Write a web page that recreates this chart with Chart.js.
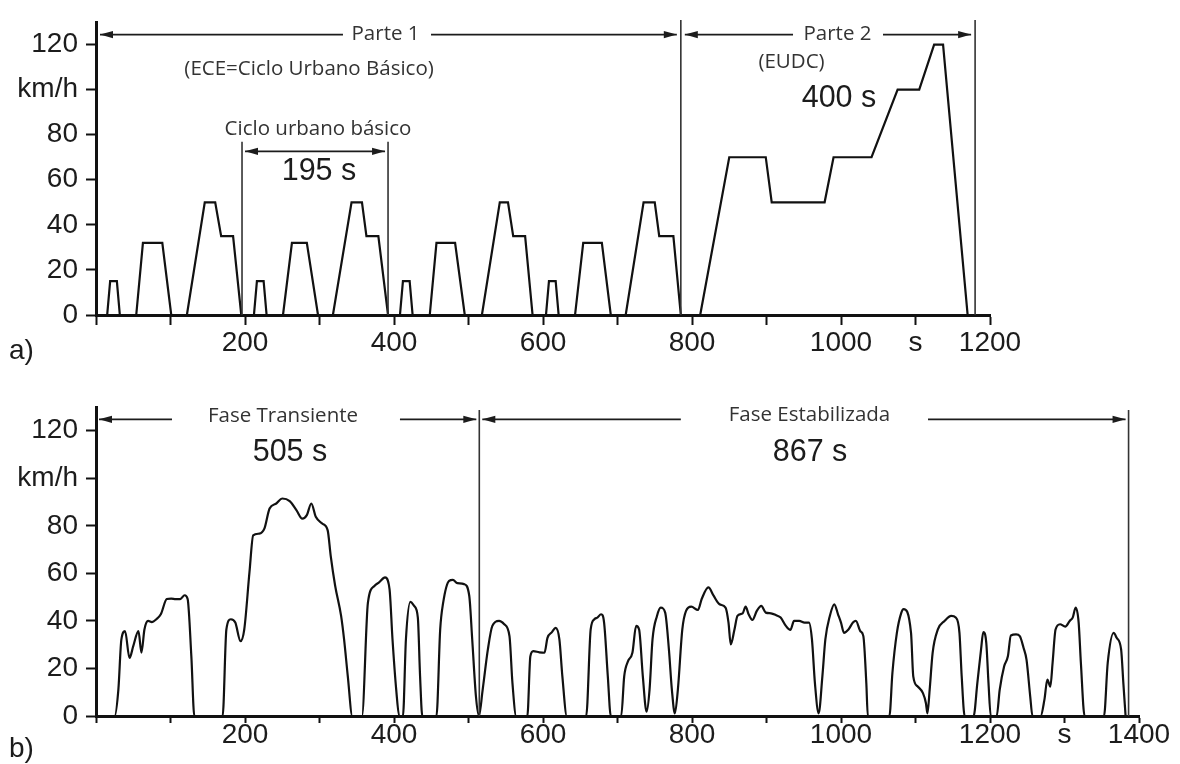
<!DOCTYPE html>
<html><head><meta charset="utf-8">
<script src="https://cdn.jsdelivr.net/npm/chart.js@4.4.1/dist/chart.umd.min.js"></script>
<style>
html,body{margin:0;padding:0;background:#fff;width:1180px;height:764px;overflow:hidden;}
canvas{position:absolute;left:0;}
</style></head><body>
<canvas id="c1" width="1180" height="380" style="top:0px"></canvas>
<canvas id="c2" width="1180" height="384" style="top:380px"></canvas>
<script>
// ---------- DATA ----------
// a) NEDC: 4 x ECE urban cycles + EUDC (time s, speed km/h)
const nedcTime = [
  0, 15, 19, 28, 32, 54, 63, 89, 101, 122, 146, 160, 168, 184, 195,
  212, 216, 225, 229, 251, 263, 283, 298, 318, 343, 357, 363, 379, 392,
  408, 412, 421, 425, 448, 457, 482, 495, 518, 542, 553, 560, 576, 586,
  604, 608, 617, 621, 643, 654, 679, 691, 711, 735, 750, 756, 775, 785,
  811, 850, 899, 907, 978, 990, 1041, 1076, 1105, 1125, 1137, 1170, 1180
];
const nedcSpeed = [
  0, 0, 15, 15, 0, 0, 32, 32, 0, 0, 50, 50, 35, 35, 0,
  0, 15, 15, 0, 0, 32, 32, 0, 0, 50, 50, 35, 35, 0,
  0, 15, 15, 0, 0, 32, 32, 0, 0, 50, 50, 35, 35, 0,
  0, 15, 15, 0, 0, 32, 32, 0, 0, 50, 50, 35, 35, 0,
  0, 70, 70, 50, 50, 70, 70, 100, 100, 120, 120, 0, 0
];
// b) FTP-75 (time s, speed km/h)
const ftpTime = [
  0, 25, 30, 34, 39, 45, 50, 57, 61, 65, 70, 75, 81, 87, 95, 101, 107, 113, 119, 123, 128, 132,
  170, 175, 181, 187, 194, 199, 206, 211, 219, 226, 233, 242, 250, 260, 269, 277, 283, 289, 295, 304, 311, 315, 321, 329, 333, 338, 344,
  357, 365, 374, 380, 388, 394, 398, 403, 407,
  412, 416, 422, 427, 432, 435, 438,
  457, 462, 466, 474, 479, 485, 494, 501, 505, 510, 514,
  519, 526, 532, 541, 548, 555, 559, 564,
  579, 583, 587, 595, 602, 606, 612, 617, 622, 626, 632,
  658, 664, 669, 673, 678, 682, 687, 691,
  705, 709, 714, 720, 725, 729, 734, 739, 743, 747, 753, 758, 764, 769, 773, 777,
  781, 787, 792, 799, 808, 813, 822, 829, 837, 845, 849, 852, 857, 861, 868, 872, 876, 881, 887, 893, 899, 906, 913, 919, 926, 932, 937, 944, 951, 957, 961, 965, 970,
  975, 979, 985, 991, 996, 1000, 1004, 1010, 1016, 1020, 1026, 1030, 1034, 1036,
  1065, 1069, 1075, 1081, 1084, 1094, 1097, 1103, 1110, 1114, 1116,
  1119, 1123, 1130, 1139, 1148, 1154, 1159, 1162, 1166,
  1178, 1183, 1188, 1191, 1195, 1198, 1201,
  1209, 1213, 1219, 1224, 1228, 1235, 1240, 1245, 1249, 1254, 1257,
  1268, 1273, 1277, 1281, 1284, 1288, 1294, 1301, 1307, 1311, 1315, 1319, 1322, 1327,
  1353, 1358, 1366, 1370, 1376, 1379, 1382
];
const ftpSpeed = [
  0, 0, 11, 32, 35.7, 24.4, 29.4, 35.7, 26.6, 36.4, 40, 39.5, 40.7, 42.8, 49.2, 49.4, 49.2, 49.2, 50.8, 49.2, 25, 0,
  0, 36.4, 40.7, 39.3, 31.5, 36.4, 60.5, 76, 76.7, 78.8, 87.3, 89.4, 91.5, 90.4, 86.6, 83, 84.5, 89.4, 83.8, 80.9, 78.1, 67.5, 54.8, 42.1, 32.2, 16.7, 0,
  0, 47.7, 54.8, 56.2, 58.3, 53.4, 32.2, 11, 0,
  0, 32.2, 48, 46.3, 41.4, 16.7, 0,
  0, 36.4, 47.7, 56.9, 57.3, 55.9, 55.5, 50.6, 32.2, 8.2, 0,
  11, 28, 37.9, 40, 38.6, 33.6, 13.8, 0,
  0, 25.1, 27.3, 26.8, 26.6, 32.9, 35.3, 37.1, 32.2, 16.7, 0,
  0, 36.4, 40.7, 41.4, 42.8, 39.3, 16.7, 0,
  0, 16.7, 23, 26.6, 37.9, 36.4, 16.7, 1.8, 11, 32.2, 42.1, 45.6, 43.5, 28, 11, 1.1,
  11, 36.4, 44.2, 46, 44.6, 49.2, 54.1, 50.6, 47, 45.6, 39.3, 30.1, 36.4, 42.1, 43.2, 46, 42.8, 40.4, 44.2, 46.3, 43.5, 43.2, 42.4, 41.4, 37.9, 36.2, 40, 40, 39.3, 39.3, 32.2, 13.8, 1.1,
  16.7, 32.2, 42.1, 47, 42.8, 39.3, 35, 36.4, 39.3, 40, 35.7, 33.6, 13.8, 0,
  0, 18.1, 35, 43.5, 45, 35, 16.7, 12.4, 9.6, 5.4, 1.1,
  11, 26.6, 36.4, 40, 42.1, 41.4, 35, 16.7, 0,
  0, 13.8, 28, 35.3, 30.8, 13.8, 0,
  0, 11, 20.9, 25.1, 33.9, 34.3, 33.6, 28.7, 23.7, 8.2, 0,
  0, 6.8, 15.3, 12.4, 22.3, 36.4, 38.6, 37.6, 40, 41.4, 45.6, 39.3, 22.3, 0,
  0, 22.3, 35, 32.9, 28, 13.8, 0
];
// tick values / labels
const yTickValues = [0, 20, 40, 60, 80, 100, 120];
const yTickLabels = ['0', '20', '40', '60', '80', 'km/h', '120'];
const nedcXTickValues = [0, 100, 200, 300, 400, 500, 600, 700, 800, 900, 1000, 1100, 1200];
const nedcXTickLabels = ['', '', '200', '', '400', '', '600', '', '800', '', '1000', 's', '1200'];
const ftpXTickValues = [0, 100, 200, 300, 400, 500, 600, 700, 800, 900, 1000, 1100, 1200, 1300, 1400];
const ftpXTickLabels = ['', '', '200', '', '400', '', '600', '', '800', '', '1000', '', '1200', 's', '1400'];

// ---------- DRAWING ----------
const SMALL = '20.5px "Open Sans"';
const BIG = '30.5px "Liberation Sans"';
const INK = '#1c1c1c';

function arrowHead(ctx, x, y, dir) {
  const L = 13, H = 3.6;
  ctx.beginPath();
  ctx.moveTo(x, y);
  ctx.lineTo(x - dir * L, y - H);
  ctx.lineTo(x - dir * L, y + H);
  ctx.closePath();
  ctx.fill();
}

function annotations(items) {
  return {
    id: 'annotations',
    afterDatasetsDraw(chart) {
      const ctx = chart.ctx;
      const X = t => chart.scales.x.getPixelForValue(t);
      const Y = v => chart.scales.y.getPixelForValue(v);
      ctx.save();
      for (const it of items) {
        if (it.kind === 'vline') {
          ctx.strokeStyle = '#333'; ctx.lineWidth = 1.6;
          const x = X(it.t);
          ctx.beginPath(); ctx.moveTo(x, Y(it.top)); ctx.lineTo(x, Y(0)); ctx.stroke();
        } else if (it.kind === 'span') {
          const y = Y(it.v);
          const x1 = X(it.t1) + it.inset, x2 = X(it.t2) - it.inset;
          ctx.strokeStyle = INK; ctx.fillStyle = INK; ctx.lineWidth = 1.6;
          ctx.beginPath();
          if (it.gap) {
            ctx.moveTo(x1, y); ctx.lineTo(X(it.gap[0]), y);
            ctx.moveTo(X(it.gap[1]), y); ctx.lineTo(x2, y);
          } else {
            ctx.moveTo(x1, y); ctx.lineTo(x2, y);
          }
          ctx.stroke();
          arrowHead(ctx, x1, y, -1);
          arrowHead(ctx, x2, y, 1);
        } else if (it.kind === 'text') {
          ctx.font = it.font; ctx.fillStyle = it.color || INK;
          ctx.textAlign = 'center'; ctx.textBaseline = 'middle';
          ctx.fillText(it.text, X(it.t), Y(it.v));
        } else if (it.kind === 'corner') {
          ctx.font = '28px "Liberation Sans"'; ctx.fillStyle = INK;
          ctx.textAlign = 'left'; ctx.textBaseline = 'middle';
          ctx.fillText(it.text, it.x, it.y);
        }
      }
      ctx.restore();
    }
  };
}

function makeChart(id, o) {
  const tickFont = { family: 'Liberation Sans', size: 28, lineHeight: 1 };
  return new Chart(document.getElementById(id), {
    type: 'line',
    data: {
      datasets: [{
        data: o.times.map((t, i) => ({ x: t, y: o.speeds[i] })),
        borderColor: '#111', borderWidth: 2.2, pointRadius: 0,
        tension: o.tension, cubicInterpolationMode: o.tension ? 'monotone' : 'default',
        fill: false
      }]
    },
    options: {
      responsive: false, animation: false, devicePixelRatio: 1,
      layout: { padding: o.padding },
      plugins: { legend: { display: false }, tooltip: { enabled: false } },
      scales: {
        x: {
          type: 'linear', min: 0, max: o.xmax,
          afterBuildTicks: s => { s.ticks = o.xVals.map(v => ({ value: v })); },
          afterFit: s => { s.height = o.xHeight; },
          ticks: { autoSkip: false, maxRotation: 0, padding: o.xPad, font: tickFont, color: INK,
                   callback: (v, i) => o.xLabels[i] },
          grid: { drawOnChartArea: false, drawTicks: true, tickLength: o.xTick, tickWidth: 2, tickColor: '#111' },
          border: { display: true, color: '#111', width: 3 }
        },
        y: {
          type: 'linear', min: 0, max: 130,
          afterBuildTicks: s => { s.ticks = yTickValues.map(v => ({ value: v })); },
          afterFit: s => { s.width = 96; },
          ticks: { autoSkip: false, padding: 8, font: tickFont, color: INK,
                   callback: (v, i) => yTickLabels[i] },
          grid: { drawOnChartArea: false, drawTicks: true, tickLength: 10, tickWidth: 2, tickColor: '#111' },
          border: { display: true, color: '#111', width: 3 }
        }
      }
    },
    plugins: [annotations(o.notes)]
  });
}

makeChart('c1', {
  times: nedcTime, speeds: nedcSpeed, tension: 0, xmax: 1200,
  xVals: nedcXTickValues, xLabels: nedcXTickLabels,
  padding: { left: 0, right: 190, top: 12, bottom: 0 },
  xHeight: 65, xTick: 10, xPad: 4,
  notes: [
    { kind: 'vline', t: 785, top: 130.9 },
    { kind: 'vline', t: 1180, top: 130.9 },
    { kind: 'vline', t: 196, top: 76.9 },
    { kind: 'vline', t: 392, top: 76.9 },
    { kind: 'span', t1: 0, t2: 785, v: 124.4, inset: 4, gap: [331.5, 449.7] },
    { kind: 'text', t: 388.6, v: 124.4, text: 'Parte 1', font: SMALL, color: '#333' },
    { kind: 'span', t1: 785, t2: 1180, v: 124.4, inset: 4, gap: [935.6, 1056.4] },
    { kind: 'text', t: 995.3, v: 124.4, text: 'Parte 2', font: SMALL, color: '#333' },
    { kind: 'text', t: 286, v: 109, text: '(ECE=Ciclo Urbano Básico)', font: SMALL, color: '#333' },
    { kind: 'text', t: 933.6, v: 112.2, text: '(EUDC)', font: SMALL, color: '#333' },
    { kind: 'text', t: 997.3, v: 96.1, text: '400 s', font: BIG },
    { kind: 'text', t: 298, v: 82.4, text: 'Ciclo urbano básico', font: SMALL, color: '#333' },
    { kind: 'span', t1: 196, t2: 392, v: 72.6, inset: 3 },
    { kind: 'text', t: 299.3, v: 63.5, text: '195 s', font: BIG },
    { kind: 'corner', x: 9, y: 351, text: 'a)' }
  ]
});

makeChart('c2', {
  times: ftpTime, speeds: ftpSpeed, tension: 0.35, xmax: 1400,
  xVals: ftpXTickValues, xLabels: ftpXTickLabels,
  padding: { left: 0, right: 41, top: 27, bottom: 0 },
  xHeight: 48, xTick: 7, xPad: -2,
  notes: [
    { kind: 'vline', t: 514.5, top: 128.7 },
    { kind: 'vline', t: 1386, top: 128.7 },
    { kind: 'span', t1: 0, t2: 514.5, v: 124.8, inset: 3, gap: [102, 408] },
    { kind: 'text', t: 251, v: 126.2, text: 'Fase Transiente', font: SMALL, color: '#333' },
    { kind: 'span', t1: 514.5, t2: 1386, v: 124.8, inset: 3, gap: [785, 1116.8] },
    { kind: 'text', t: 957.7, v: 126.5, text: 'Fase Estabilizada', font: SMALL, color: '#333' },
    { kind: 'text', t: 260.4, v: 110.9, text: '505 s', font: BIG },
    { kind: 'text', t: 958.4, v: 111, text: '867 s', font: BIG },
    { kind: 'corner', x: 9, y: 369, text: 'b)' }
  ]
});
</script>
</body></html>
